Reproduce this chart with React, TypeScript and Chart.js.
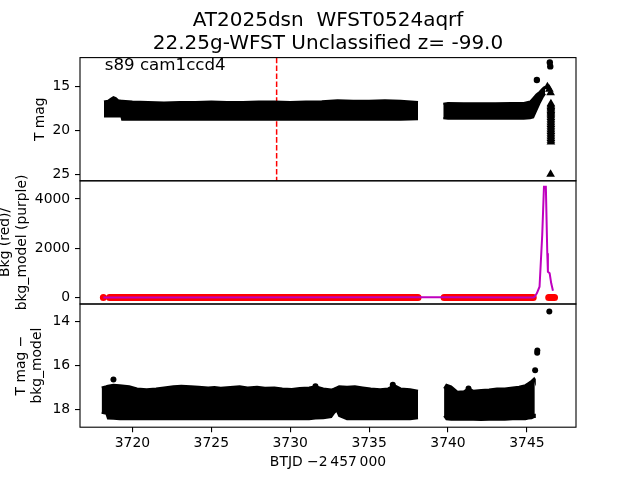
import React, { useEffect, useRef } from 'react';
import { Chart, registerables } from 'chart.js';

Chart.register(...registerables);

const FONT = "'DejaVu Sans', sans-serif";

// ---------- axis ticks / ranges ----------
const xTicks = [3720, 3725, 3730, 3735, 3740, 3745];
const magTicks = [15, 20, 25];
const bkgTicks = [0, 2000, 4000];
const diffTicks = [14, 16, 18];
const xRange = [3716.68, 3748.11];
const magRange = [11.7, 25.7];
const bkgRange = [-264, 4739];
const diffRange = [13.21, 18.81];

const titleLines = ['AT2025dsn  WFST0524aqrf', '22.25g-WFST Unclassified z= -99.0'];
const panelNote = 's89 cam1ccd4';
const yLabel1 = 'T mag';
const yLabel2 = ['Bkg (red)/', 'bkg_model (purple)'];
const yLabel3 = ['T mag \u2212', 'bkg_model'];
const xLabel = 'BTJD \u22122\u2009457\u2009000';

// ---------- panel 1: T mag (dense band envelope + outliers) ----------
const p1Seg1Time = [3718.2, 3718.45, 3718.65, 3718.8, 3718.95, 3719.1, 3719.3, 3719.35, 3720.0, 3721.0, 3722.0, 3723.0, 3724.0, 3725.0, 3726.0, 3727.0, 3728.0, 3729.0, 3730.0, 3731.0, 3732.0, 3733.0, 3734.0, 3735.0, 3736.0, 3737.0, 3738.1];
const p1Seg1Upper = [16.7, 16.6, 16.35, 16.2, 16.3, 16.55, 16.6, 16.6, 16.7, 16.75, 16.8, 16.75, 16.75, 16.7, 16.75, 16.75, 16.7, 16.7, 16.75, 16.7, 16.65, 16.55, 16.6, 16.6, 16.55, 16.6, 16.75];
const p1Seg1Lower = [18.4, 18.4, 18.4, 18.4, 18.4, 18.4, 18.4, 18.75, 18.75, 18.75, 18.75, 18.75, 18.75, 18.75, 18.75, 18.75, 18.75, 18.75, 18.75, 18.75, 18.75, 18.75, 18.75, 18.75, 18.75, 18.75, 18.7];
const p1Seg2Time = [3739.7, 3740.0, 3741.0, 3742.0, 3743.0, 3744.0, 3744.8, 3745.2, 3745.4, 3745.6, 3745.8, 3746.0, 3746.15];
const p1Seg2Upper = [16.95, 16.85, 16.9, 16.9, 16.9, 16.85, 16.85, 16.7, 16.3, 15.9, 15.6, 15.2, 15.0];
const p1Seg2Lower = [18.6, 18.65, 18.65, 18.65, 18.65, 18.65, 18.65, 18.6, 18.5, 17.7, 16.9, 16.2, 15.8];
const p1DotTime = [3745.63, 3746.45, 3746.48];
const p1DotMag = [14.25, 12.25, 12.7];
const p1LimitTime = [3746.3, 3746.42, 3746.5, 3746.52, 3746.52, 3746.52, 3746.52, 3746.52, 3746.52, 3746.52, 3746.52, 3746.52, 3746.52, 3746.52, 3746.52, 3746.52, 3746.52, 3746.52, 3746.52, 3746.52, 3746.52, 3746.52, 3746.52, 3746.52, 3746.52, 3746.52, 3746.52, 3746.52, 3746.5];
const p1LimitMag = [15.0, 15.3, 15.7, 16.95, 17.1, 17.25, 17.4, 17.55, 17.7, 17.85, 18.0, 18.15, 18.3, 18.5, 18.7, 18.9, 19.1, 19.3, 19.5, 19.7, 19.9, 20.1, 20.3, 20.5, 20.7, 20.9, 21.1, 21.3, 24.95];
const markerTime = 3729.14;

// ---------- panel 2: background (red) and model (purple) ----------
const redSegStart = [3718.55, 3725.3, 3732.95, 3739.75, 3746.38];
const redSegEnd = [3725.2, 3732.85, 3738.1, 3745.4, 3746.75];
const redSegLevel = [0, 0, 0, 0, 0];
const redDotTime = [3718.16];
const redDotValue = [0];
const modelTime = [3718.16, 3738.1, 3739.75, 3745.4, 3745.49, 3745.63, 3745.8, 3745.91, 3745.97, 3746.08, 3746.2, 3746.29, 3746.33, 3746.44, 3746.54, 3746.65];
const modelValue = [0, 10, 10, 5, 33, 170, 440, 1795, 2538, 4500, 4500, 1795, 1048, 983, 577, 276];

// ---------- panel 3: T mag - bkg_model ----------
const p3Seg1Time = [3718.05, 3718.35, 3718.45, 3718.8, 3719.2, 3719.8, 3720.3, 3720.9, 3721.5, 3722.0, 3722.6, 3723.1, 3723.7, 3724.2, 3724.8, 3725.2, 3725.6, 3726.2, 3726.8, 3727.3, 3727.9, 3728.4, 3729.0, 3729.5, 3730.1, 3730.6, 3731.2, 3731.6, 3732.1, 3732.6, 3732.8, 3732.95, 3733.1, 3733.6, 3734.1, 3734.6, 3735.1, 3735.7, 3736.2, 3736.6, 3737.0, 3737.6, 3738.1];
const p3Seg1Upper = [17.0, 16.95, 16.92, 16.88, 16.9, 16.95, 17.05, 17.08, 17.05, 17.0, 16.95, 16.93, 16.95, 16.97, 17.0, 16.98, 17.02, 16.98, 16.95, 17.0, 16.97, 17.02, 17.0, 17.05, 17.07, 17.03, 17.0, 16.95, 17.05, 17.1, 17.05, 17.0, 16.95, 16.97, 16.95, 17.0, 17.05, 17.08, 17.05, 16.9, 17.05, 17.08, 17.15];
const p3Seg1Lower = [18.15, 18.2, 18.42, 18.43, 18.45, 18.45, 18.45, 18.45, 18.45, 18.45, 18.45, 18.45, 18.45, 18.45, 18.45, 18.45, 18.45, 18.45, 18.45, 18.45, 18.45, 18.45, 18.45, 18.45, 18.45, 18.45, 18.45, 18.42, 18.4, 18.35, 18.15, 18.05, 18.3, 18.45, 18.45, 18.45, 18.45, 18.45, 18.45, 18.45, 18.45, 18.45, 18.4];
const p3Seg2Time = [3739.75, 3739.9, 3740.2, 3740.6, 3741.0, 3741.3, 3741.6, 3742.1, 3742.6, 3743.1, 3743.6, 3744.1, 3744.5, 3744.9, 3745.1, 3745.3, 3745.45, 3745.5];
const p3Seg2Upper = [17.05, 16.88, 16.95, 17.2, 17.18, 17.05, 17.15, 17.12, 17.1, 17.05, 17.05, 17.0, 16.97, 16.9, 16.8, 16.7, 16.6, 16.7];
const p3Seg2Lower = [18.3, 18.45, 18.47, 18.47, 18.47, 18.47, 18.47, 18.48, 18.47, 18.47, 18.47, 18.45, 18.45, 18.45, 18.42, 18.4, 18.35, 18.2];
const p3DotTime = [3718.8, 3731.6, 3736.5, 3741.3, 3745.52, 3745.65, 3745.66, 3746.42];
const p3DotMag = [16.64, 16.95, 16.88, 17.05, 16.22, 15.43, 15.32, 13.55];

// ---------- helpers ----------
const pts = (xs: number[], ys: number[]) => xs.map((x, i) => ({ x, y: ys[i] }));

const tickFont = { family: FONT, size: 13.9 };

const framePlugin = {
  id: 'frame',
  afterDraw(chart: any) {
    const { ctx, chartArea: a } = chart;
    ctx.save();
    ctx.strokeStyle = '#000';
    ctx.lineWidth = 1.1;
    ctx.strokeRect(a.left, a.top, a.right - a.left, a.bottom - a.top);
    ctx.restore();
  },
};

const notePlugin = {
  id: 'note',
  afterDraw(chart: any) {
    const { ctx, chartArea: a } = chart;
    ctx.save();
    ctx.fillStyle = '#000';
    ctx.font = `16.67px ${FONT}`;
    ctx.textAlign = 'left';
    ctx.textBaseline = 'alphabetic';
    ctx.fillText(panelNote, a.left + 0.05 * (a.right - a.left), a.bottom - 0.9 * (a.bottom - a.top));
    ctx.restore();
  },
};

function yScale(range: number[], reverse: boolean, ticks: number[], title: string | string[], titlePad: number) {
  return {
    type: 'linear',
    position: 'left',
    min: range[0],
    max: range[1],
    reverse,
    afterFit: (s: any) => { s.width = 80; },
    afterBuildTicks: (s: any) => { s.ticks = ticks.map((v) => ({ value: v })); },
    grid: { display: true, drawOnChartArea: false, drawTicks: true, tickLength: 5, color: '#000', lineWidth: 1.1 },
    border: { display: false },
    ticks: { color: '#000', font: tickFont, padding: 4.8, autoSkip: false, callback: (v: any) => String(v) },
    title: { display: true, text: title, color: '#000', font: { family: FONT, size: 13.9, lineHeight: 1.2 }, padding: { top: titlePad, bottom: 0 } },
  };
}

const hiddenX = { type: 'linear', min: xRange[0], max: xRange[1], display: false };

function baseOptions(padding: any, scales: any, extraPlugins: any = {}) {
  return {
    responsive: false,
    animation: false,
    devicePixelRatio: 1,
    events: [],
    layout: { padding },
    scales,
    plugins: { legend: { display: false }, tooltip: { enabled: false }, ...extraPlugins },
  };
}

const bandPair = (t: number[], up: number[], lo: number[]) => [
  { data: pts(t, up), borderColor: '#000', backgroundColor: '#000', borderWidth: 2, pointRadius: 0, fill: '+1', tension: 0, order: 1 },
  { data: pts(t, lo), borderColor: '#000', backgroundColor: '#000', borderWidth: 2, pointRadius: 0, fill: false, tension: 0, order: 1 },
];

export default function App() {
  const c1 = useRef<HTMLCanvasElement>(null);
  const c2 = useRef<HTMLCanvasElement>(null);
  const c3 = useRef<HTMLCanvasElement>(null);

  useEffect(() => {
    Chart.defaults.font.family = FONT;

    const chart1 = new Chart(c1.current as HTMLCanvasElement, {
      type: 'line',
      data: {
        datasets: [
          { data: [{ x: markerTime, y: magRange[0] }, { x: markerTime, y: magRange[1] }], borderColor: '#ff0000', borderWidth: 1.5, borderDash: [5.55, 2.4], pointRadius: 0, fill: false, order: 10 },
          ...bandPair(p1Seg1Time, p1Seg1Upper, p1Seg1Lower),
          ...bandPair(p1Seg2Time, p1Seg2Upper, p1Seg2Lower),
          { data: pts(p1DotTime, p1DotMag), showLine: false, pointRadius: 3.2, pointBackgroundColor: '#000', pointBorderWidth: 0, order: 0 },
          { data: pts(p1LimitTime, p1LimitMag), showLine: false, pointStyle: 'triangle', pointRadius: 5, pointBackgroundColor: '#000', pointBorderWidth: 0, order: 0 },
        ] as any,
      },
      options: baseOptions(
        { top: 0, left: 0, right: 64, bottom: 299.2 },
        { x: hiddenX, y: yScale(magRange, true, magTicks, yLabel1, 31.7) },
        { title: { display: true, text: titleLines, color: '#000', fullSize: false, font: { family: FONT, size: 20, lineHeight: 1.125, weight: 'normal' }, padding: { top: 9.75, bottom: 2.85 } } }
      ) as any,
      plugins: [framePlugin, notePlugin],
    });

    const redData: any[] = [];
    redSegStart.forEach((s, i) => {
      redData.push({ x: s, y: redSegLevel[i] });
      redData.push({ x: redSegEnd[i], y: redSegLevel[i] });
      redData.push({ x: (redSegEnd[i] + (redSegStart[i + 1] ?? redSegEnd[i])) / 2, y: null });
    });

    const chart2 = new Chart(c2.current as HTMLCanvasElement, {
      type: 'line',
      data: {
        datasets: [
          { data: pts(modelTime, modelValue), borderColor: '#bf00bf', borderWidth: 2, pointRadius: 0, fill: false, tension: 0, order: 0 },
          { data: redData, borderColor: '#ff0000', borderWidth: 7, borderCapStyle: 'round', pointRadius: 0, fill: false, tension: 0, spanGaps: false, order: 5 },
          { data: pts(redDotTime, redDotValue), showLine: false, pointRadius: 3.5, pointBackgroundColor: '#ff0000', pointBorderWidth: 0, order: 5 },
        ] as any,
      },
      options: baseOptions(
        { top: 180.8, left: 0, right: 64, bottom: 176 },
        { x: hiddenX, y: yScale(bkgRange, false, bkgTicks, yLabel2, -2.8) }
      ) as any,
      plugins: [framePlugin],
    });

    const chart3 = new Chart(c3.current as HTMLCanvasElement, {
      type: 'line',
      data: {
        datasets: [
          ...bandPair(p3Seg1Time, p3Seg1Upper, p3Seg1Lower),
          ...bandPair(p3Seg2Time, p3Seg2Upper, p3Seg2Lower),
          { data: pts(p3DotTime, p3DotMag), showLine: false, pointRadius: 3, pointBackgroundColor: '#000', pointBorderWidth: 0, order: 0 },
        ] as any,
      },
      options: baseOptions(
        { top: 304, left: 0, right: 64, bottom: 0 },
        {
          x: {
            type: 'linear',
            position: 'bottom',
            min: xRange[0],
            max: xRange[1],
            afterFit: (s: any) => { s.height = 52.8; },
            afterBuildTicks: (s: any) => { s.ticks = xTicks.map((v) => ({ value: v })); },
            grid: { display: true, drawOnChartArea: false, drawTicks: true, tickLength: 5, color: '#000', lineWidth: 1.1 },
            border: { display: false },
            ticks: { color: '#000', font: tickFont, padding: 3, maxRotation: 0, autoSkip: false, callback: (v: any) => String(v) },
            title: { display: true, text: xLabel, color: '#000', font: { family: FONT, size: 13.9, lineHeight: 1.2 }, padding: { top: 0, bottom: 9.7 } },
          },
          y: yScale(diffRange, true, diffTicks, yLabel3, 12.7),
        }
      ) as any,
      plugins: [framePlugin],
    });

    return () => {
      chart1.destroy();
      chart2.destroy();
      chart3.destroy();
    };
  }, []);

  const cs: React.CSSProperties = { position: 'absolute', left: 0, top: 0 };
  return (
    <div style={{ position: 'fixed', left: 0, top: 0, width: 640, height: 480, background: '#fff' }}>
      <canvas ref={c1} width={640} height={480} style={cs} />
      <canvas ref={c2} width={640} height={480} style={cs} />
      <canvas ref={c3} width={640} height={480} style={cs} />
    </div>
  );
}
